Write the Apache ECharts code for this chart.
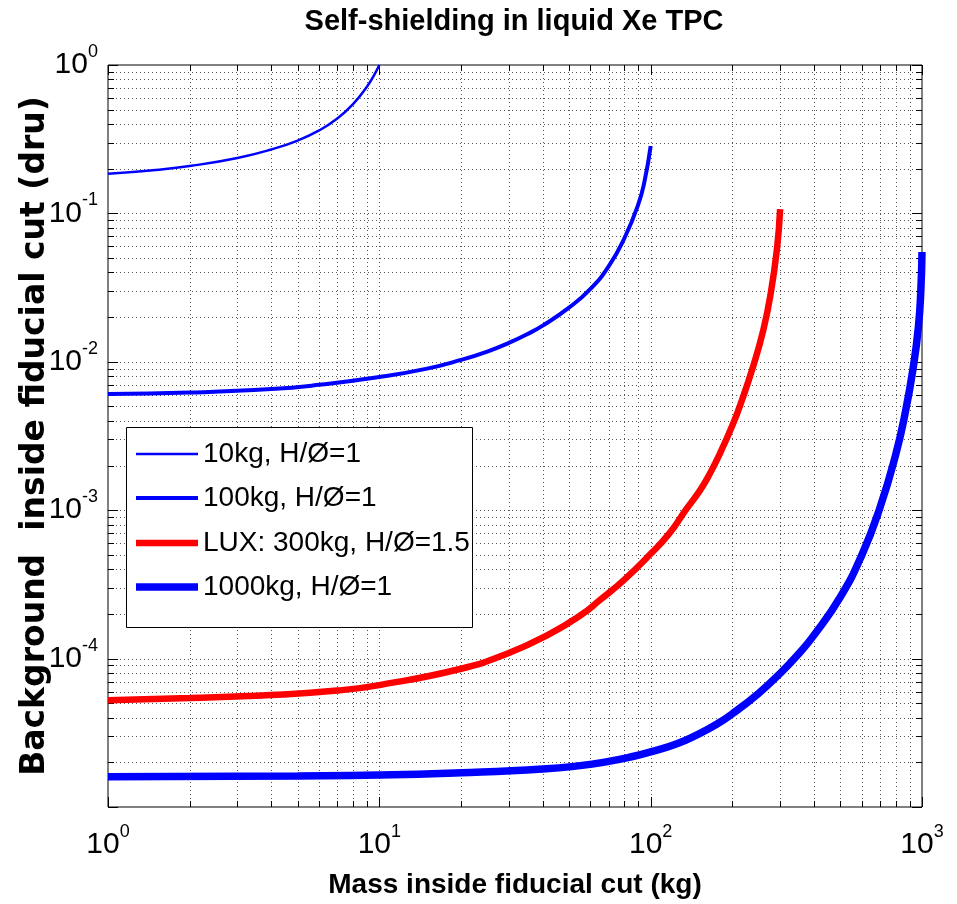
<!DOCTYPE html>
<html><head><meta charset="utf-8">
<script src="https://cdn.jsdelivr.net/npm/echarts@6/dist/echarts.min.js"></script>
<style>html,body{margin:0;padding:0;background:#fff}#c{width:957px;height:904px}</style>
</head><body><div id="c"></div>
<script>
// ---------------- data ----------------
const seriesNames = ['10kg, H/\u00D8=1', '100kg, H/\u00D8=1', 'LUX: 300kg, H/\u00D8=1.5', '1000kg, H/\u00D8=1'];

const x10kg = [1, 1.5, 2, 3, 4, 5, 6, 7, 8, 9, 9.5, 10];
const y10kg = [0.185, 0.1963, 0.2085, 0.2364, 0.2698, 0.3097, 0.3622, 0.4362, 0.5454, 0.7143, 0.835, 1.0];

const x100kg = [1, 2, 4, 6, 10, 15, 20, 25, 30, 35, 40, 50, 60, 70, 80, 90, 95, 100];
const y100kg = [0.00606, 0.0062, 0.00655, 0.0070, 0.0079, 0.0090, 0.0103, 0.01173, 0.0134, 0.01532, 0.01753, 0.02317, 0.031, 0.044, 0.068, 0.115, 0.166, 0.285];

const xLUX = [1, 2, 4, 7, 10, 20, 30, 42, 55, 65, 80, 100, 117, 134.5, 152, 165, 180, 200, 214, 239, 260, 276, 292, 300];
const yLUX = [5.25e-5, 5.42e-5, 5.68e-5, 6.09e-5, 6.63e-5, 8.54e-5, 1.09e-4, 1.45e-4, 1.95e-4, 2.48e-4, 3.41e-4, 5.08e-4, 6.95e-4, 1.0e-3, 1.36e-3, 1.755e-3, 2.41e-3, 3.72e-3, 5.13e-3, 9.4e-3, 0.0163, 0.0278, 0.0575, 0.107];

const x1000kg = [1, 5, 10, 20, 40, 55, 70, 85, 100, 125, 150, 175, 200, 250, 300, 350, 400, 500, 600, 700, 800, 870, 930, 970, 990, 1000];
const y1000kg = [1.6e-5, 1.62e-5, 1.64e-5, 1.7e-5, 1.8e-5, 1.9e-5, 2.03e-5, 2.18e-5, 2.35e-5, 2.67e-5, 3.1e-5, 3.61e-5, 4.25e-5, 5.84e-5, 7.95e-5, 1.07e-4, 1.44e-4, 2.6e-4, 4.98e-4, 1.04e-3, 2.37e-3, 4.67e-3, 9.37e-3, 0.0172, 0.0301, 0.055];

const xMajorTicks = [1, 10, 100, 1000];
const yMajorTicks = [1e-5, 1e-4, 1e-3, 1e-2, 1e-1, 1];

// ---------------- helpers ----------------
function zip(xs, ys) { return xs.map((x, i) => [x, ys[i]]); }
function minorBetween(majors) {
  const out = [];
  for (let i = 0; i < majors.length - 1; i++) for (let k = 2; k <= 9; k++) out.push(majors[i] * k);
  return out;
}
const X_MIN = 1, X_MAX = 1000, Y_MIN = 1e-5, Y_MAX = 1;
const xLines = xMajorTicks.map(v => [v, Y_MIN, 1]).concat(minorBetween(xMajorTicks).map(v => [v, Y_MIN, 0]));
const yLines = yMajorTicks.map(v => [X_MIN, v, 1]).concat(minorBetween(yMajorTicks).map(v => [X_MIN, v, 0]));

const FONT = '"Liberation Sans", Arial, Helvetica, sans-serif';
const colors = ['#0000ff', '#0000ff', '#ff0000', '#0000ff'];
const widths = [2.5, 4, 6.5, 7.5];
const datasets = [zip(x10kg, y10kg), zip(x100kg, y100kg), zip(xLUX, yLUX), zip(x1000kg, y1000kg)];
const rowCenters = [454, 498, 543, 587];

const GRID_STROKE = '#555';
function crisp(v) { return Math.round(v) + 0.5; }

function renderXLine(params, api) {
  const v = api.value(0), maj = api.value(2);
  const p0 = api.coord([v, Y_MIN]), p1 = api.coord([v, Y_MAX]);
  const x = crisp(p0[0]);
  const L = maj ? 10 : 6;
  const ch = [];
  if (v > X_MIN * 1.0001 && v < X_MAX * 0.9999) {
    ch.push({ type: 'line', shape: { x1: x, y1: p0[1], x2: x, y2: p1[1] }, style: { stroke: GRID_STROKE, lineWidth: 1, lineDash: [1, 3] } });
  }
  ch.push({ type: 'line', shape: { x1: x, y1: p0[1], x2: x, y2: p0[1] - L }, style: { stroke: '#000', lineWidth: 1 } });
  ch.push({ type: 'line', shape: { x1: x, y1: p1[1], x2: x, y2: p1[1] + L }, style: { stroke: '#000', lineWidth: 1 } });
  return { type: 'group', children: ch };
}
function renderYLine(params, api) {
  const v = api.value(1), maj = api.value(2);
  const p0 = api.coord([X_MIN, v]), p1 = api.coord([X_MAX, v]);
  const y = crisp(p0[1]);
  const L = maj ? 10 : 6;
  const ch = [];
  if (v > Y_MIN * 1.0001 && v < Y_MAX * 0.9999) {
    ch.push({ type: 'line', shape: { x1: p0[0], y1: y, x2: p1[0], y2: y }, style: { stroke: GRID_STROKE, lineWidth: 1, lineDash: [1, 3] } });
  }
  ch.push({ type: 'line', shape: { x1: p0[0], y1: y, x2: p0[0] + L, y2: y }, style: { stroke: '#000', lineWidth: 1 } });
  ch.push({ type: 'line', shape: { x1: p1[0], y1: y, x2: p1[0] - L, y2: y }, style: { stroke: '#000', lineWidth: 1 } });
  return { type: 'group', children: ch };
}

const labelRich = {
  b: { fontSize: 30, fontFamily: FONT, color: '#000', lineHeight: 44 },
  s: { fontSize: 18, fontFamily: FONT, color: '#000', verticalAlign: 'top', lineHeight: 20 }
};
function expLabel(v) {
  const e = Math.round(Math.log10(v));
  return '{b|10}{s|' + e + '}';
}

const chart = echarts.init(document.getElementById('c'), null, { renderer: 'canvas' });
chart.setOption({
  animation: false,
  backgroundColor: '#fff',
  title: {
    text: 'Self-shielding in liquid Xe TPC',
    left: 514, top: 7, textAlign: 'center', padding: 0,
    textStyle: { fontFamily: FONT, fontWeight: 'bold', fontSize: 29, color: '#000' }
  },
  grid: { left: 108, right: 35, top: 65, bottom: 96, show: true, borderColor: '#000', borderWidth: 1, backgroundColor: 'transparent' },
  xAxis: {
    type: 'log', logBase: 10, min: X_MIN, max: X_MAX,
    name: 'Mass inside fiducial cut (kg)', nameLocation: 'middle', nameGap: 64, nameMoveOverlap: false,
    nameTextStyle: { fontFamily: FONT, fontWeight: 'bold', fontSize: 28, color: '#000' },
    axisLine: { show: false }, axisTick: { show: false }, splitLine: { show: false }, minorTick: { show: false },
    axisLabel: { formatter: expLabel, rich: labelRich, margin: 16 }
  },
  yAxis: {
    type: 'log', logBase: 10, min: Y_MIN, max: Y_MAX,
    name: 'Background  inside fiducial cut (dru)', nameLocation: 'middle', nameGap: 56, nameMoveOverlap: false,
    nameTextStyle: { fontFamily: '"DejaVu Sans", sans-serif', fontWeight: 'bold', fontSize: 33, color: '#000' },
    axisLine: { show: false }, axisTick: { show: false }, splitLine: { show: false }, minorTick: { show: false },
    axisLabel: { formatter: expLabel, rich: labelRich, margin: 10, showMinLabel: false }
  },
  legend: seriesNames.map((n, i) => ({
    data: [{ name: n, icon: 'rect' }],
    left: 136, top: rowCenters[i] - 18, padding: 0,
    itemWidth: 62, itemHeight: widths[i], selectedMode: false, z: 20,
    textStyle: { fontFamily: FONT, fontSize: 28, color: '#000', lineHeight: 36 }
  })),
  graphic: [{
    type: 'rect', left: 126, top: 427, z: 15,
    shape: { width: 346, height: 200 },
    style: { fill: '#fff', stroke: '#000', lineWidth: 1 }
  }],
  series: [
    { type: 'custom', name: 'xgrid', silent: true, z: 1, clip: false, renderItem: renderXLine, data: xLines },
    { type: 'custom', name: 'ygrid', silent: true, z: 1, clip: false, renderItem: renderYLine, data: yLines }
  ].concat(seriesNames.map((n, i) => ({
    type: 'line', name: n, data: datasets[i], showSymbol: false, symbol: 'none',
    smooth: 0.5, z: 5 + i,
    lineStyle: { color: colors[i], width: widths[i] }, itemStyle: { color: colors[i] }
  })))
});
</script></body></html>
